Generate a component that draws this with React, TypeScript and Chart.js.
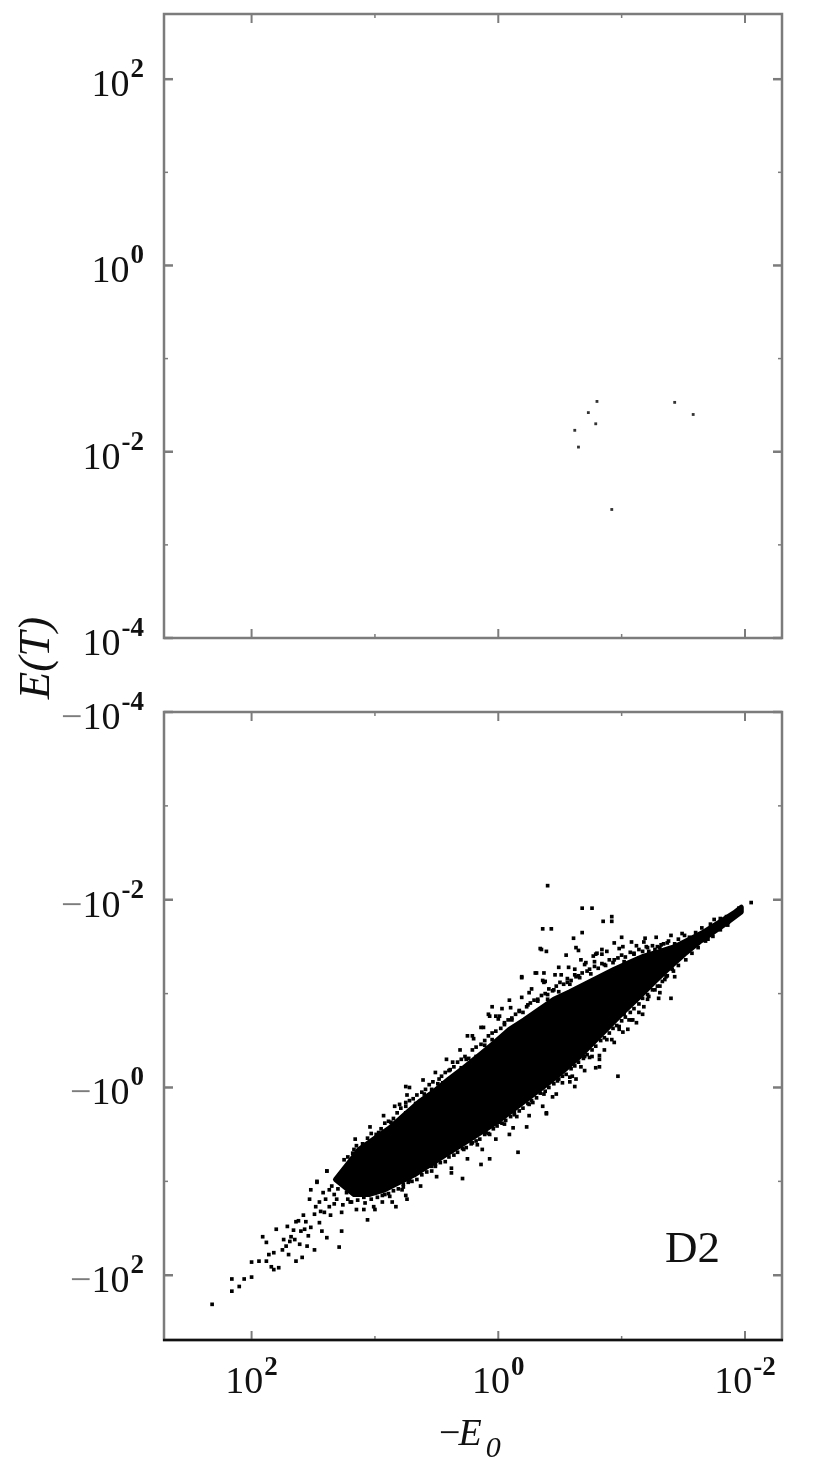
import React, { useEffect, useRef } from 'react';
import { Chart, registerables } from 'chart.js';

Chart.register(...registerables);

const SERIF = '"Liberation Serif", "Times New Roman", serif';
const GREY = '#7c7c7c';
const INK = '#111111';

// ---- axis ranges, in decades (log10) ----
const xExpMin = -2.3;
const xExpMax = 2.71;
const topYExpMin = -4;
const topYExpMax = 2.7;
const botYExpMin = -4; // |E(T)| at top of lower panel (label -10^-4)
const botYExpMax = 2.69;

// ---- tick decades ----
const xTickExps = [2, 1, 0, -1, -2];
const xLabelExps = [2, 0, -2];
const topYTickExps = [2, 1, 0, -1, -2, -3, -4];
const topYLabelExps = [2, 0, -2, -4];
const botYTickExps = [-4, -3, -2, -1, 0, 1, 2];
const botYLabelExps = [-4, -2, 0, 2];

// ---- data (log10 of -E0, log10 of |E(T)|) ----
// upper panel: positive E(T)
const topPointsLog: [number, number][] = [
  [-0.80, -1.46], [-0.73, -1.58], [-0.79, -1.70], [-0.62, -1.77], [-0.65, -1.95],
  [-0.92, -2.62], [-1.43, -1.47], [-1.58, -1.60],
];

// lower panel: negative E(T); values are log10(-E(T))
// outline of the solid (saturated) core of the cloud
const coreOutlineLog: [number, number][] = [
  [1.32, 0.98], [1.20, 0.78], [1.13, 0.66], [1.01, 0.55], [0.88, 0.43], [0.76, 0.29], [0.64, 0.15],
  [0.52, 0.04], [0.40, -0.09], [0.28, -0.21], [0.15, -0.35], [0.03, -0.48], [-0.09, -0.62],
  [-0.21, -0.72], [-0.33, -0.83], [-0.45, -0.94], [-0.58, -1.02], [-0.70, -1.10], [-0.82, -1.18],
  [-0.94, -1.26], [-1.06, -1.33], [-1.18, -1.40], [-1.31, -1.45], [-1.43, -1.50], [-1.55, -1.58],
  [-1.67, -1.66], [-1.79, -1.76], [-1.91, -1.86], [-1.97, -1.92],
  [-1.97, -1.87], [-1.87, -1.77], [-1.75, -1.66], [-1.63, -1.55], [-1.51, -1.42], [-1.39, -1.28],
  [-1.27, -1.13], [-1.14, -0.96], [-1.02, -0.81], [-0.90, -0.65], [-0.78, -0.49], [-0.66, -0.33],
  [-0.54, -0.19], [-0.41, -0.05], [-0.29, 0.07], [-0.17, 0.19], [-0.05, 0.31], [0.07, 0.42],
  [0.19, 0.52], [0.32, 0.63], [0.44, 0.73], [0.56, 0.83], [0.68, 0.93], [0.80, 1.01], [0.92, 1.09],
  [1.05, 1.14], [1.17, 1.14],
];

// sparse lower-left tail
const tailPointsLog: [number, number][] = [
  [2.32, 2.31], [2.16, 2.04], [2.16, 2.17], [2.10, 2.12], [2.06, 2.04], [2.00, 2.02], [2.00, 1.86],
  [1.91, 1.59], [1.88, 1.65], [1.88, 1.85], [1.84, 1.91], [1.82, 1.76], [1.80, 1.51], [1.82, 1.94],
  [1.78, 1.92], [1.75, 1.73], [1.72, 1.69], [1.71, 1.48], [1.68, 1.59], [1.65, 1.62], [1.64, 1.43],
  [1.64, 1.85], [1.60, 1.53], [1.59, 1.81], [1.56, 1.43], [1.55, 1.69], [1.52, 1.49], [1.49, 1.73],
  [1.48, 1.27], [1.45, 1.44], [1.43, 1.53], [1.41, 1.33], [1.39, 1.60], [1.52, 1.09], [1.47, 1.00],
  [1.39, 0.89], [1.37, 1.27], [1.35, 1.05], [1.31, 1.19], [1.29, 1.70], [1.27, 1.53], [1.27, 1.33],
  [1.23, 1.12], [1.21, 0.98], [1.19, 1.22], [1.18, 0.80], [1.15, 1.30], [1.13, 1.09], [1.13, 0.73],
  [1.10, 0.87], [1.09, 1.17], [1.06, 1.41], [1.05, 1.00], [1.02, 0.66], [1.01, 1.27], [0.99, 0.84],
  [0.97, 1.09], [0.97, 0.48], [0.94, 1.22], [0.91, 0.95], [0.90, 0.55], [0.88, 1.16], [0.87, 0.37],
  [0.86, 0.77], [0.84, 1.01], [0.83, 1.27], [0.80, 0.18], [0.78, 1.09], [0.75, -0.01], [0.75, 0.27],
  [0.74, 1.19],
  [1.33, 1.14], [1.31, 0.98], [1.25, 1.03], [1.22, 1.19], [1.19, 0.93], [1.17, 1.09], [1.14, 0.85],
  [1.11, 0.98], [1.09, 1.30], [1.07, 0.82], [1.05, 1.14], [1.03, 0.89], [1.01, 0.77], [0.98, 1.03],
  [0.97, 0.66], [0.94, 0.87], [0.92, 1.14], [0.90, 0.75], [0.88, 0.61], [0.87, 0.93], [0.84, 0.50],
  [0.83, 0.82], [0.80, 0.66], [0.79, 0.39], [0.77, 1.03], [0.75, 0.55], [0.73, 0.32], [0.71, 0.77],
  [0.68, 0.45], [0.66, 0.89], [0.64, 0.26], [0.60, 0.07], [0.58, 0.61], [0.54, 0.02], [0.51, 0.82],
  [0.48, -0.09], [1.25, 0.77], [1.17, 0.66], [1.37, 1.09], [1.40, 1.19], [1.44, 1.32], [1.49, 1.35],
  [1.53, 1.19], [1.57, 1.51], [1.61, 1.67], [1.70, 1.78], [1.74, 1.62], [1.86, 1.78], [1.94, 1.85],
  [1.42, 1.12], [1.45, 1.22], [1.36, 1.36], [1.33, 1.24], [1.30, 1.08], [1.28, 0.93], [1.26, 1.25],
  [1.24, 0.90], [1.21, 1.10], [1.58, 1.36], [1.62, 1.42], [1.66, 1.52], [1.69, 1.64], [1.54, 1.58],
];

// dense fringe hugging the upper edge of the core
const upperFringeLog: [number, number][] = [
  [1.22, 0.74], [1.18, 0.70], [1.15, 0.62], [1.10, 0.60], [1.06, 0.54], [1.03, 0.49], [0.99, 0.50],
  [0.95, 0.44], [0.92, 0.38], [0.89, 0.36], [0.85, 0.33], [0.82, 0.27], [0.79, 0.22], [0.75, 0.20],
  [0.72, 0.14], [0.69, 0.12], [0.66, 0.08], [0.62, 0.05], [0.59, 0.02], [0.56, -0.03], [0.53, -0.06],
  [0.49, -0.04], [0.46, -0.12], [0.43, -0.16], [0.39, -0.19], [0.36, -0.22], [0.33, -0.27], [0.30, -0.30],
  [0.27, -0.33], [0.24, -0.31], [0.21, -0.40], [0.18, -0.43], [0.14, -0.46], [0.11, -0.50], [0.08, -0.55],
  [0.05, -0.58], [0.02, -0.60], [-0.02, -0.63], [-0.05, -0.69], [-0.08, -0.72], [-0.11, -0.74],
  [-0.14, -0.78], [-0.17, -0.82], [-0.20, -0.80], [-0.23, -0.86], [-0.26, -0.90], [-0.29, -0.93],
  [-0.32, -0.92], [-0.35, -0.98], [-0.38, -1.00], [-0.41, -1.05], [-0.44, -1.03], [-0.47, -1.08],
  [-0.50, -1.12], [-0.53, -1.10], [-0.56, -1.16], [-0.59, -1.14], [-0.62, -1.20], [-0.65, -1.19],
  [-0.68, -1.22], [-0.72, -1.24], [-0.75, -1.21], [-0.78, -1.29], [-0.81, -1.27], [-0.84, -1.32],
  [-0.87, -1.30], [-0.90, -1.36], [-0.93, -1.33], [-0.97, -1.38], [-1.00, -1.41], [-1.03, -1.39],
  [-1.07, -1.44], [-1.10, -1.43], [-1.14, -1.47], [-1.17, -1.45], [-1.21, -1.49], [-1.25, -1.51],
  [-1.29, -1.50], [-1.34, -1.53], [-1.38, -1.56], [-1.46, -1.58], [-1.51, -1.62], [-1.60, -1.65],
  [-1.65, -1.70], [-1.72, -1.74], [-1.80, -1.80],
  [1.16, 0.55], [1.04, 0.42], [0.93, 0.30], [0.84, 0.20], [0.74, 0.08], [0.61, -0.08], [0.51, -0.16],
  [0.42, -0.30], [0.31, -0.40], [0.20, -0.52], [0.12, -0.64], [0.00, -0.73], [-0.10, -0.85],
  [-0.19, -0.96], [-0.27, -1.05], [-0.37, -1.12], [-0.46, -1.20], [-0.57, -1.28], [-0.67, -1.36],
  [-0.77, -1.40], [-0.88, -1.45], [-0.98, -1.48], [-1.08, -1.55], [-1.19, -1.59], [-1.28, -1.60],
  [-1.40, -1.62],
];

// dense fringe hugging the lower edge of the core
const lowerFringeLog: [number, number][] = [
  [1.20, 1.22], [1.14, 1.20], [1.08, 1.23], [1.03, 1.19], [0.98, 1.17], [0.94, 1.15], [0.89, 1.13],
  [0.85, 1.10], [0.81, 1.08], [0.77, 1.06], [0.73, 1.01], [0.70, 1.00], [0.66, 0.98], [0.62, 0.93],
  [0.58, 0.90], [0.54, 0.89], [0.51, 0.84], [0.47, 0.80], [0.43, 0.79], [0.40, 0.74], [0.36, 0.72],
  [0.33, 0.69], [0.29, 0.65], [0.26, 0.64], [0.22, 0.60], [0.18, 0.57], [0.15, 0.55], [0.11, 0.50],
  [0.08, 0.49], [0.04, 0.44], [0.01, 0.41], [-0.03, 0.38], [-0.06, 0.35], [-0.10, 0.31], [-0.13, 0.27],
  [-0.17, 0.25], [-0.20, 0.22], [-0.24, 0.17], [-0.27, 0.14], [-0.31, 0.11], [-0.34, 0.06], [-0.38, 0.04],
  [-0.41, 0.00], [-0.45, -0.04], [-0.48, -0.07], [-0.52, -0.12], [-0.55, -0.14], [-0.59, -0.20],
  [-0.62, -0.23], [-0.65, -0.27], [-0.69, -0.31], [-0.72, -0.35], [-0.76, -0.40], [-0.79, -0.44],
  [-0.83, -0.50], [-0.86, -0.53], [-0.90, -0.58], [-0.93, -0.63], [-0.96, -0.66], [-1.00, -0.71],
  [-1.03, -0.75], [-1.07, -0.80], [-1.10, -0.84], [-1.14, -0.89], [-1.17, -0.95], [-1.21, -0.99],
  [-1.25, -1.04], [-1.29, -1.08], [-1.33, -1.13], [-1.37, -1.19], [-1.42, -1.24], [-1.46, -1.30],
  [-1.52, -1.36], [-1.57, -1.43], [-1.62, -1.49], [-1.68, -1.56], [-1.74, -1.61], [-1.80, -1.68],
  [-1.86, -1.73],
  [1.00, 1.30], [0.86, 1.22], [0.75, 1.15], [0.63, 1.05], [0.50, 0.95], [0.38, 0.86], [0.25, 0.76],
  [0.13, 0.66], [0.02, 0.55], [-0.12, 0.43], [-0.25, 0.30], [-0.36, 0.20], [-0.47, 0.07], [-0.58, -0.06],
  [-0.70, -0.18], [-0.82, -0.34], [-0.94, -0.48], [-1.05, -0.62], [-1.17, -0.78], [-1.30, -0.95],
];

// scattered halo / outliers around the core
const haloPointsLog: [number, number][] = [
  [-0.40, -2.15], [-0.68, -1.91], [-0.76, -1.91], [-0.85, -1.77], [-0.92, -1.82], [-0.92, -1.77],
  [-0.36, -1.69], [-0.43, -1.69], [-0.68, -1.65], [-0.61, -1.59], [-0.94, -1.54], [-1.00, -1.60],
  [-1.12, -1.51], [-1.18, -1.55], [-1.37, -1.54], [-1.43, -1.53], [-0.35, -1.47], [-0.39, -1.45],
  [-0.55, -1.41], [-0.63, -1.49], [-0.80, -1.43], [-0.84, -1.47], [-0.49, -1.28], [-0.31, -1.22],
  [-0.37, -1.22], [-0.19, -1.18], [-0.38, -1.13], [-0.62, -1.26], [-0.71, -1.33], [-0.25, -1.01],
  [-0.09, -0.93], [0.05, -0.86], [-0.01, -0.76], [0.07, -0.76], [0.14, -0.64], [0.25, -0.55],
  [0.21, -0.55], [0.37, -0.27], [0.72, 0.00], [0.75, 0.16], [0.97, 0.51], [1.13, 0.73], [1.39, 0.89],
  [1.47, 1.01],
  [-1.01, -1.50], [-1.20, -1.50], [-1.49, -1.64], [-1.75, -1.79], [-1.85, -1.82], [-1.78, -1.73],
  [-1.95, -1.91], [-2.05, -1.97], [-0.65, -1.46], [-0.84, -1.42], [-0.79, -1.42], [-0.30, -1.22],
  [-0.36, -1.14], [-1.40, -0.95], [-1.43, -1.18], [-1.12, -0.69], [-1.09, -0.72], [-1.31, -1.08],
  [-1.22, -0.97],
  [-1.08, -0.72], [-0.98, -0.62], [-0.97, -0.12], [-0.86, -0.40], [-0.82, -0.30], [-0.79, -0.21],
  [-0.70, -0.33], [-0.67, -0.22], [-0.63, -0.09], [-0.62, -0.01], [-0.58, -0.11], [-0.52, -0.05],
  [-1.21, -0.94], [-1.18, -0.86], [-1.14, -0.80], [-1.01, -0.59], [-0.92, -0.51], [-0.88, -0.51],
  [-0.74, -0.32],
  [-0.34, -1.48], [-0.19, -1.17], [-0.03, -0.84], [0.08, -0.78], [0.02, -0.76], [0.11, -0.45],
  [0.05, -0.51], [0.40, -0.18], [0.26, -0.30], [0.18, -0.33], [0.67, 0.17], [0.70, 0.27], [0.62, 0.21],
  [0.56, 0.13], [0.48, 0.05], [0.45, -0.05], [0.33, -0.12], [0.30, -0.21], [0.24, -0.24], [0.17, -0.22],
  [0.10, -0.33], [-0.36, -0.83], [-0.40, -0.94], [-0.49, -1.02], [-0.56, -1.12], [-0.63, -1.18],
  [-0.39, 0.27],
  [-0.09, 0.50], [-0.16, 0.69], [0.07, 0.76], [0.14, 0.82], [0.29, 0.97], [0.38, 0.91], [-0.39, 0.28],
  [-0.28, 0.16], [-0.44, 0.10], [-0.60, -0.12], [-0.76, -0.33], [-0.82, -0.22], [-0.01, 0.37],
  [0.10, 0.48], [0.21, 0.59], [0.34, 0.63], [0.45, 0.73], [0.54, 0.84], [0.58, 0.77], [0.67, 0.91],
  [0.72, 0.98], [0.80, 0.87], [0.86, 1.00], [-0.15, 0.31], [-0.23, 0.42], [-0.98, -0.65], [-1.06, -0.72],
  [-1.31, -1.01], [-1.36, -1.18], [-1.41, -1.26],
  [-1.27, -1.47], [-1.32, -1.52], [-1.55, -1.60], [-1.59, -1.52], [-1.67, -1.66], [-1.70, -1.58],
  [-1.73, -1.70], [-1.87, -1.79], [-1.91, -1.84],
  [-0.86, -1.31], [-0.94, -1.36], [-1.02, -1.34], [-1.10, -1.42], [-1.22, -1.45], [-1.31, -1.49],
  [-0.74, -1.26], [-0.66, -1.17], [-0.58, -1.10], [-0.45, -1.04], [-0.40, -0.99], [-0.32, -0.94],
  [-0.24, -0.88], [-0.17, -0.81], [-0.11, -0.72], [-0.05, -0.67], [-0.78, -1.34], [-0.70, -1.31],
  [-0.51, -1.20], [-1.14, -1.38],
  [-0.49, -0.09], [-0.37, 0.07], [-0.25, 0.18], [-0.13, 0.29], [-0.05, 0.39], [0.07, 0.50],
  [0.17, 0.61], [0.28, 0.66], [-0.70, -0.40], [-0.90, -0.67], [-1.02, -0.78], [-1.27, -1.04],
  [-1.35, -1.15],
];

const toXY = (arr: [number, number][]) => arr.map(([a, b]) => ({ x: Math.pow(10, a), y: Math.pow(10, b) }));

function line(ctx: CanvasRenderingContext2D, x1: number, y1: number, x2: number, y2: number) {
  ctx.beginPath();
  ctx.moveTo(x1, y1);
  ctx.lineTo(x2, y2);
  ctx.stroke();
}

function drawPow(
  ctx: CanvasRenderingContext2D,
  prefix: string,
  exp: string,
  x: number,
  baseY: number,
  supY: number,
  align: 'right' | 'center'
) {
  const baseFont = `38px ${SERIF}`;
  const supFont = `bold 27px ${SERIF}`;
  ctx.font = baseFont;
  const wp = prefix ? ctx.measureText(prefix).width : 0;
  const wb = ctx.measureText('10').width;
  ctx.font = supFont;
  const we = ctx.measureText(exp).width;
  const gap = 1;
  const total = wp + wb + gap + we;
  let x0 = align === 'right' ? x - total : x - total / 2;
  ctx.textAlign = 'left';
  ctx.textBaseline = 'alphabetic';
  if (prefix) {
    ctx.font = baseFont;
    ctx.fillStyle = GREY;
    ctx.fillText(prefix, x0, baseY);
    x0 += wp;
  }
  ctx.font = baseFont;
  ctx.fillStyle = INK;
  ctx.fillText('10', x0, baseY);
  x0 += wb + gap;
  ctx.font = supFont;
  ctx.fillText(exp, x0, supY);
}

function makePanelPlugin(panel: 'top' | 'bottom') {
  return {
    id: 'panel-' + panel,
    beforeDatasetsDraw(chart: any) {
      if (panel !== 'bottom') return;
      const ctx: CanvasRenderingContext2D = chart.ctx;
      const xs = chart.scales.x;
      const ys = chart.scales.y;
      ctx.save();
      ctx.beginPath();
      coreOutlineLog.forEach(([a, b], i) => {
        const px = xs.getPixelForValue(Math.pow(10, a));
        const py = ys.getPixelForValue(Math.pow(10, b));
        if (i === 0) ctx.moveTo(px, py);
        else ctx.lineTo(px, py);
      });
      ctx.closePath();
      ctx.fillStyle = '#000';
      ctx.fill();
      ctx.lineJoin = 'round';
      ctx.lineWidth = 5;
      ctx.strokeStyle = '#000';
      ctx.stroke();
      ctx.restore();
    },
    afterDraw(chart: any) {
      const ctx: CanvasRenderingContext2D = chart.ctx;
      const { left, right, top, bottom } = chart.chartArea;
      const xs = chart.scales.x;
      const ys = chart.scales.y;
      const yTicks = panel === 'top' ? topYTickExps : botYTickExps;
      const yLabels = panel === 'top' ? topYLabelExps : botYLabelExps;
      ctx.save();
      ctx.lineCap = 'butt';
      // ticks
      ctx.strokeStyle = GREY;
      for (const e of xTickExps) {
        const px = xs.getPixelForValue(Math.pow(10, e));
        const major = xLabelExps.includes(e);
        ctx.lineWidth = major ? 2 : 1.5;
        const len = major ? 9 : 4;
        line(ctx, px, bottom, px, bottom - len);
        line(ctx, px, top, px, top + len);
      }
      for (const e of yTicks) {
        const py = ys.getPixelForValue(Math.pow(10, e));
        const major = yLabels.includes(e);
        ctx.lineWidth = major ? 2.5 : 1.5;
        const len = major ? 9 : 4;
        line(ctx, left, py, left + len, py);
        line(ctx, right, py, right - len, py);
      }
      // frame
      ctx.lineWidth = 2.5;
      ctx.strokeStyle = GREY;
      ctx.strokeRect(left, top, right - left, bottom - top);
      if (panel === 'bottom') {
        ctx.strokeStyle = INK;
        line(ctx, left - 1, bottom, right + 1, bottom);
      }
      // y tick labels
      for (const e of yLabels) {
        const py = ys.getPixelForValue(Math.pow(10, e));
        drawPow(ctx, panel === 'bottom' ? '\u2212' : '', String(e), left - 20, py + 17, py - 2, 'right');
      }
      if (panel === 'bottom') {
        // x tick labels
        for (const e of xLabelExps) {
          const px = xs.getPixelForValue(Math.pow(10, e));
          drawPow(ctx, '', String(e), px, bottom + 53, bottom + 35, 'center');
        }
        // x title  -E0
        const cx = (left + right) / 2;
        ctx.fillStyle = INK;
        ctx.textAlign = 'left';
        ctx.textBaseline = 'alphabetic';
        ctx.font = `38px ${SERIF}`;
        const wMinus = ctx.measureText('\u2212').width;
        const x0 = cx - 34;
        ctx.fillText('\u2212', x0, bottom + 105);
        ctx.font = `italic 38px ${SERIF}`;
        const wE = ctx.measureText('E').width;
        ctx.fillText('E', x0 + wMinus - 2, bottom + 105);
        ctx.font = `italic 30px ${SERIF}`;
        ctx.fillText('0', x0 + wMinus + wE + 2, bottom + 117);
        // panel label
        ctx.font = `45px ${SERIF}`;
        ctx.fillText('D2', right - 117, bottom - 78);
      } else {
        // y title E(T), shared by both panels
        ctx.save();
        ctx.translate(49, bottom + 20);
        ctx.rotate(-Math.PI / 2);
        ctx.font = `italic 45px ${SERIF}`;
        ctx.fillStyle = INK;
        ctx.textAlign = 'center';
        ctx.textBaseline = 'alphabetic';
        ctx.fillText('E(T)', 0, 0);
        ctx.restore();
      }
      ctx.restore();
    },
  };
}

function baseOptions(padTop: number, padBottom: number, yMinExp: number, yMaxExp: number, yReverse: boolean) {
  return {
    responsive: false,
    maintainAspectRatio: false,
    animation: false as const,
    devicePixelRatio: 1,
    events: [] as any[],
    layout: { padding: { left: 164, right: 48, top: padTop, bottom: padBottom } },
    plugins: { legend: { display: false }, tooltip: { enabled: false } },
    scales: {
      x: {
        type: 'logarithmic' as const,
        display: false,
        reverse: true,
        min: Math.pow(10, xExpMin),
        max: Math.pow(10, xExpMax),
      },
      y: {
        type: 'logarithmic' as const,
        display: false,
        reverse: yReverse,
        min: Math.pow(10, yMinExp),
        max: Math.pow(10, yMaxExp),
      },
    },
  };
}

const dotStyle = (label: string, pts: [number, number][], r: number, color: string) => ({
  label,
  data: toXY(pts),
  pointStyle: 'rect',
  pointRadius: r,
  pointBorderWidth: 0,
  pointBackgroundColor: color,
  backgroundColor: color,
  borderColor: color,
});

export default function App() {
  const topRef = useRef<HTMLCanvasElement>(null);
  const botRef = useRef<HTMLCanvasElement>(null);

  useEffect(() => {
    if (!topRef.current || !botRef.current) return;
    const top = new Chart(topRef.current, {
      type: 'scatter',
      data: { datasets: [dotStyle('E(T) > 0', topPointsLog, 2, '#333')] as any },
      options: baseOptions(14, 1470 - 638, topYExpMin, topYExpMax, false) as any,
      plugins: [makePanelPlugin('top')],
    });
    const bot = new Chart(botRef.current, {
      type: 'scatter',
      data: {
        datasets: [
          dotStyle('upper fringe', upperFringeLog, 2.6, '#000'),
          dotStyle('lower fringe', lowerFringeLog, 2.6, '#000'),
          dotStyle('halo', haloPointsLog, 2.6, '#000'),
          dotStyle('tail', tailPointsLog, 2.6, '#000'),
        ] as any,
      },
      options: baseOptions(712, 1470 - 1340, botYExpMin, botYExpMax, true) as any,
      plugins: [makePanelPlugin('bottom')],
    });
    return () => {
      top.destroy();
      bot.destroy();
    };
  }, []);

  const style: React.CSSProperties = {
    position: 'absolute',
    left: 0,
    top: 0,
    width: 830,
    height: 1470,
    display: 'block',
  };
  return (
    <div>
      <canvas ref={topRef} width={830} height={1470} style={style} />
      <canvas ref={botRef} width={830} height={1470} style={style} />
    </div>
  );
}
